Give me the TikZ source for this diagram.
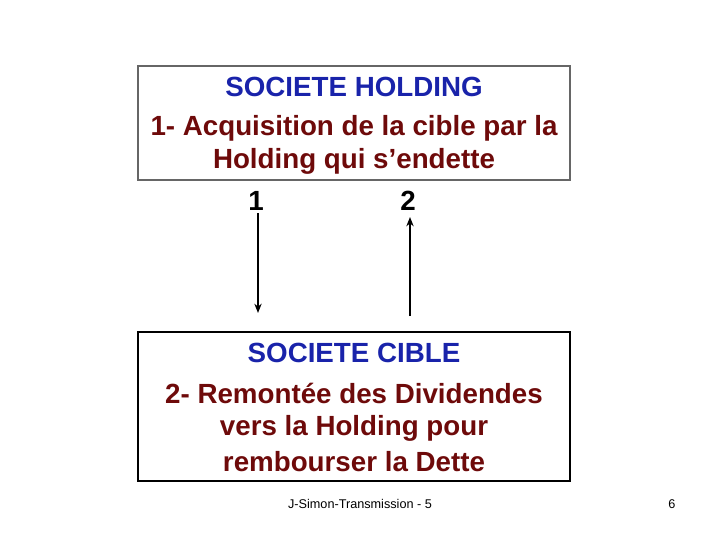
\documentclass[tikz,border=0pt]{standalone}
\usepackage{fontspec}
\usetikzlibrary{arrows.meta}
\setmainfont{Liberation Sans}
\definecolor{tblue}{RGB}{25,35,170}
\definecolor{tred}{RGB}{110,10,10}
\begin{document}
\begin{tikzpicture}[x=0.75pt,y=-0.75pt,
  t/.style={font=\bfseries\fontsize{20.8}{24}\selectfont,inner sep=0pt},
  tb/.style={t,text=tblue},
  tr/.style={t,text=tred},
  f/.style={font=\fontsize{9.5}{11}\selectfont,inner sep=0pt},
  arr/.style={-{Stealth[length=7pt,width=5.5pt]},line width=1pt}]
\useasboundingbox (0,0) rectangle (720,540);
\node[draw=gray!80!black,line width=0.8pt,minimum width=432*0.75pt,minimum height=114*0.75pt,inner sep=0pt] (top) at (354,123) {};
\node[tb] (h1) at (354,87) {SOCIETE HOLDING};
\node[tr] (h2) at (354,128) {1- Acquisition de la cible par la};
\node[tr] (h3) at (354,161) {Holding qui s’endette};
\node[t] (n1) at (256,201) {1};
\node[t] (n2) at (408,201) {2};
\node[draw,line width=1.5pt,minimum width=432*0.75pt,minimum height=149*0.75pt,inner sep=0pt] (bot) at (354,406.5) {};
\node[tb] (b1) at (354,353) {SOCIETE CIBLE};
\node[tr] (b2) at (354,393) {2- Remontée des Dividendes};
\node[tr] (b3) at (354,428) {vers la Holding pour};
\node[tr] (b4) at (354,462) {rembourser la Dette};
\coordinate (a1s) at (258,213); \coordinate (a1e) at (258,313);
\coordinate (a2s) at (410,316); \coordinate (a2e) at (410,217);
\draw[arr] (a1s) -- (a1e);
\draw[arr] (a2s) -- (a2e);
\node[f] (foot) at (360,504) {J-Simon-Transmission - 5};
\node[f] (pg) at (672,504) {6};
\end{tikzpicture}
\end{document}
